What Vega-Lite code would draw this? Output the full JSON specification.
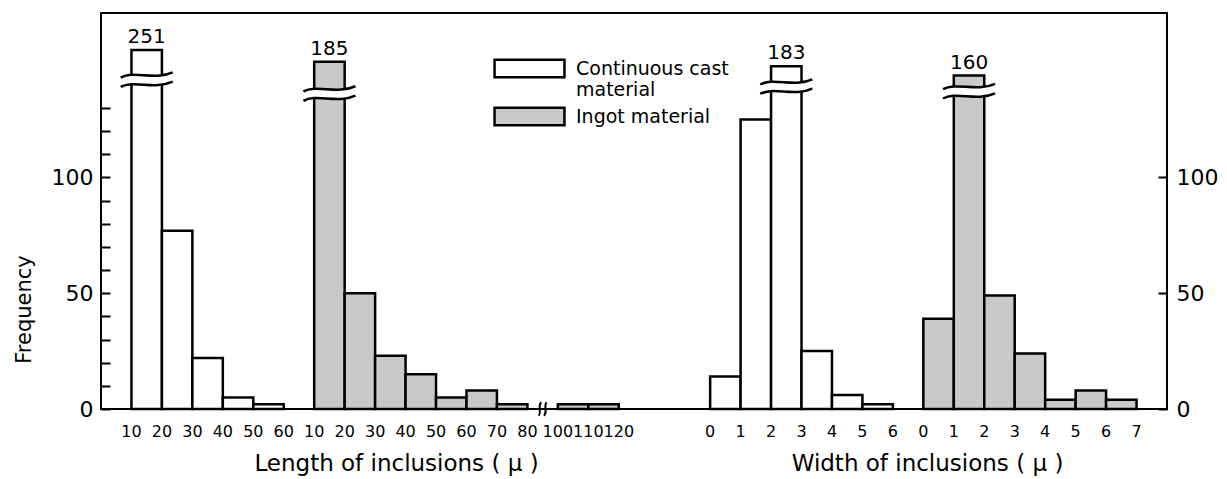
{
  "$schema": "https://vega.github.io/schema/vega-lite/v6.json",
  "width": 1066,
  "height": 396,
  "autosize": {"type": "none"},
  "padding": {"left": 101, "top": 13, "right": 60, "bottom": 70},
  "background": "white",
  "config": {
    "view": {"stroke": "black", "strokeWidth": 2},
    "font": "DejaVu Sans",
    "axis": {"grid": false}
  },
  "datasets": {
    "bars": [
      {"material": "Continuous cast material", "measure": "Length", "slot": "CC L 10", "freq": 251, "drawn": 155},
      {"material": "Continuous cast material", "measure": "Length", "slot": "CC L 20", "freq": 77, "drawn": 77},
      {"material": "Continuous cast material", "measure": "Length", "slot": "CC L 30", "freq": 22, "drawn": 22},
      {"material": "Continuous cast material", "measure": "Length", "slot": "CC L 40", "freq": 5, "drawn": 5},
      {"material": "Continuous cast material", "measure": "Length", "slot": "CC L 50", "freq": 2, "drawn": 2},
      {"material": "Ingot material", "measure": "Length", "slot": "I L 10", "freq": 185, "drawn": 150},
      {"material": "Ingot material", "measure": "Length", "slot": "I L 20", "freq": 50, "drawn": 50},
      {"material": "Ingot material", "measure": "Length", "slot": "I L 30", "freq": 23, "drawn": 23},
      {"material": "Ingot material", "measure": "Length", "slot": "I L 40", "freq": 15, "drawn": 15},
      {"material": "Ingot material", "measure": "Length", "slot": "I L 50", "freq": 5, "drawn": 5},
      {"material": "Ingot material", "measure": "Length", "slot": "I L 60", "freq": 8, "drawn": 8},
      {"material": "Ingot material", "measure": "Length", "slot": "I L 70", "freq": 2, "drawn": 2},
      {"material": "Ingot material", "measure": "Length", "slot": "I L 100", "freq": 2, "drawn": 2},
      {"material": "Ingot material", "measure": "Length", "slot": "I L 110", "freq": 2, "drawn": 2},
      {"material": "Continuous cast material", "measure": "Width", "slot": "CC W 0", "freq": 14, "drawn": 14},
      {"material": "Continuous cast material", "measure": "Width", "slot": "CC W 1", "freq": 125, "drawn": 125},
      {"material": "Continuous cast material", "measure": "Width", "slot": "CC W 2", "freq": 183, "drawn": 148},
      {"material": "Continuous cast material", "measure": "Width", "slot": "CC W 3", "freq": 25, "drawn": 25},
      {"material": "Continuous cast material", "measure": "Width", "slot": "CC W 4", "freq": 6, "drawn": 6},
      {"material": "Continuous cast material", "measure": "Width", "slot": "CC W 5", "freq": 2, "drawn": 2},
      {"material": "Ingot material", "measure": "Width", "slot": "I W 0", "freq": 39, "drawn": 39},
      {"material": "Ingot material", "measure": "Width", "slot": "I W 1", "freq": 160, "drawn": 144},
      {"material": "Ingot material", "measure": "Width", "slot": "I W 2", "freq": 49, "drawn": 49},
      {"material": "Ingot material", "measure": "Width", "slot": "I W 3", "freq": 24, "drawn": 24},
      {"material": "Ingot material", "measure": "Width", "slot": "I W 4", "freq": 4, "drawn": 4},
      {"material": "Ingot material", "measure": "Width", "slot": "I W 5", "freq": 8, "drawn": 8},
      {"material": "Ingot material", "measure": "Width", "slot": "I W 6", "freq": 4, "drawn": 4}
    ],
    "broken": [
      {"slot": "CC L 10", "freq": 251, "drawn": 155, "cut": 142},
      {"slot": "I L 10", "freq": 185, "drawn": 150, "cut": 136},
      {"slot": "CC W 2", "freq": 183, "drawn": 148, "cut": 139},
      {"slot": "I W 1", "freq": 160, "drawn": 144, "cut": 137}
    ],
    "axisbreak": [
      {"slot": "I L 80", "freq": 0}
    ]
  },
  "resolve": {"axis": {"x": "independent", "y": "independent"}},
  "layer": [
    {
      "data": {"name": "bars"},
      "mark": {"type": "bar", "stroke": "black", "strokeWidth": 2.5},
      "encoding": {
        "x": {
          "field": "slot", "type": "nominal",
          "scale": {"type": "band", "paddingInner": 0, "paddingOuter": 0,
            "domain": ["gap 0", "CC L 10", "CC L 20", "CC L 30", "CC L 40", "CC L 50", "CC L 60", "I L 10", "I L 20", "I L 30", "I L 40", "I L 50", "I L 60", "I L 70", "I L 80", "I L 100", "I L 110", "I L 120", "gap 1", "gap 2", "CC W 0", "CC W 1", "CC W 2", "CC W 3", "CC W 4", "CC W 5", "CC W 6", "I W 0", "I W 1", "I W 2", "I W 3", "I W 4", "I W 5", "I W 6", "I W 7"]},
          "axis": {
            "orient": "bottom", "bandPosition": 0, "ticks": false, "domain": false,
            "labelExpr": "indexof(datum.value, 'gap') == 0 ? '' : split(datum.value, ' ')[2]",
            "labelFontSize": 16, "labelPadding": 14, "labelColor": "black", "labelAngle": 0,
            "labelOffset": -15.2,
            "labelOverlap": false, "labelBound": false,
            "title": "Length of inclusions ( μ )", "titleFontSize": 23, "titleFontWeight": "normal",
            "titleColor": "black", "titleX": 295, "titleY": 54, "titleAlign": "center", "titleBaseline": "middle"
          }
        },
        "y": {
          "field": "drawn", "type": "quantitative",
          "scale": {"domain": [0, 171], "nice": false, "zero": true},
          "axis": {
            "orient": "left", "values": [0, 10, 20, 30, 40, 50, 60, 70, 80, 90, 100, 110, 120, 130],
            "labelExpr": "datum.value % 50 == 0 ? datum.label : ''",
            "tickSize": -9, "tickWidth": 2, "tickColor": "black",
            "labelPadding": 17, "labelFontSize": 22, "labelColor": "black", "domain": false,
            "title": "Frequency", "titleFontSize": 21, "titleFontWeight": "normal", "titleColor": "black",
            "titleX": -77, "titleY": 296, "titleAngle": 270, "titleAlign": "center", "titleBaseline": "middle"
          }
        },
        "fill": {
          "field": "material", "type": "nominal",
          "scale": {"domain": ["Continuous cast material", "Ingot material"], "range": ["#ffffff", "#c9c9c9"]},
          "legend": {
            "orient": "none", "legendX": 412, "legendY": 39, "title": null, "padding": 0,
            "symbolType": "M -2.33 -0.58 H 2.33 V 0.58 H -2.33 Z", "symbolSize": 900,
            "symbolStrokeColor": "black", "symbolStrokeWidth": 2.5, "symbolOpacity": 1,
            "labelFontSize": 19, "labelColor": "black", "labelOffset": 30, "rowPadding": -8,
            "labelLineHeight": 17,
            "labelExpr": "datum.label == 'Continuous cast material' ? ['Continuous cast', 'material'] : datum.label"
          }
        }
      }
    },
    {
      "data": {"name": "broken"},
      "mark": {"type": "point", "shape": "M -0.97 -0.1 C -0.5 -0.38 0.3 0.02 0.97 -0.3 L 0.97 0.06 C 0.3 0.38 -0.5 -0.02 -0.97 0.26 Z", "size": 2704, "filled": true, "color": "white", "strokeWidth": 0, "opacity": 1},
      "encoding": {
        "x": {"field": "slot", "type": "nominal",
          "axis": {"orient": "bottom", "labels": false, "ticks": false, "domain": false,
            "title": "Width of inclusions ( μ )", "titleFontSize": 23, "titleFontWeight": "normal",
            "titleColor": "black", "titleX": 826, "titleY": 54, "titleAlign": "center", "titleBaseline": "middle"}},
        "y": {"field": "cut", "type": "quantitative",
          "axis": {"orient": "right", "values": [0, 50, 100], "tickSize": -9, "tickWidth": 2, "tickColor": "black",
            "labelPadding": 18, "labelFontSize": 22, "labelColor": "black", "domain": false, "title": null}}
      }
    },
    {
      "data": {"name": "broken"},
      "mark": {"type": "point", "shape": "M -1 -0.1 C -0.5 -0.38 0.3 0.02 1 -0.3 M -1 0.26 C -0.5 -0.02 0.3 0.38 1 0.06", "size": 2704, "filled": false, "stroke": "black", "strokeWidth": 2.5, "opacity": 1},
      "encoding": {
        "x": {"field": "slot", "type": "nominal", "axis": null},
        "y": {"field": "cut", "type": "quantitative", "axis": null}
      }
    },
    {
      "data": {"name": "broken"},
      "mark": {"type": "text", "dy": -13, "fontSize": 20, "baseline": "middle", "color": "black"},
      "encoding": {
        "x": {"field": "slot", "type": "nominal", "axis": null},
        "y": {"field": "drawn", "type": "quantitative", "axis": null},
        "text": {"field": "freq", "type": "quantitative"}
      }
    },
    {
      "data": {"name": "axisbreak"},
      "mark": {"type": "point", "shape": "M -0.5 0.9 C -0.1 0.3 -0.7 -0.3 -0.2 -0.9 M 0.2 0.9 C 0.7 0.3 0.1 -0.3 0.5 -0.9", "size": 225, "filled": false, "stroke": "black", "strokeWidth": 2, "opacity": 1},
      "encoding": {
        "x": {"field": "slot", "type": "nominal", "axis": null},
        "y": {"field": "freq", "type": "quantitative", "axis": null}
      }
    }
  ]
}
